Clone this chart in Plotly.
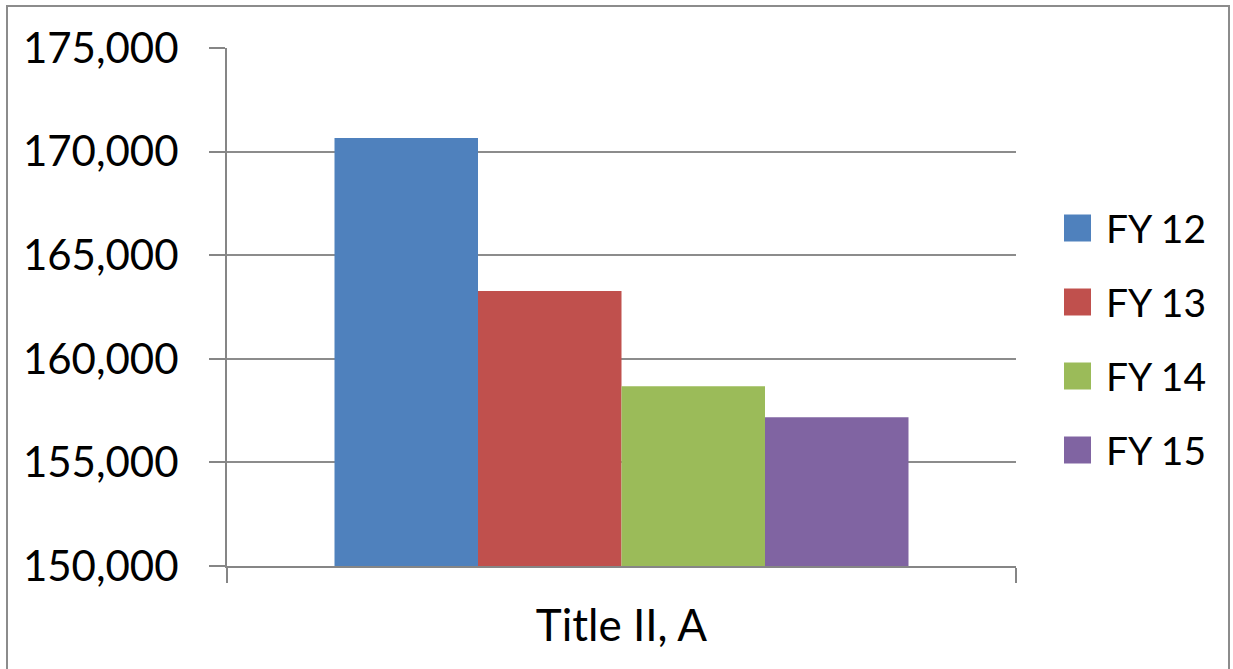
import plotly.graph_objects as go

# Data
category = ["Title II, A"]
series_names = ["FY 12", "FY 13", "FY 14", "FY 15"]
series_values = [170660, 163270, 158680, 157180]
colors = ["#4F81BD", "#C0504D", "#9BBB59", "#8064A2"]
y_ticks = [150000, 155000, 160000, 165000, 170000, 175000]

W, H = 1233, 669
ML, MR, MT, MB = 227, 217, 48, 103
PW, PH = W - ML - MR, H - MT - MB


def px_to_paper(x, y):
    return (x - ML) / PW, (H - MB - y) / PH


fig = go.Figure()
for name, val, col in zip(series_names, series_values, colors):
    fig.add_trace(go.Bar(x=category, y=[val], name=name, marker_color=col,
                         marker_line_width=0, showlegend=False))

shapes = []
annotations = []

# Custom legend: large colour squares with labels
for i, (name, col) in enumerate(zip(series_names, colors)):
    cy = 228 + i * 74
    x0, y0 = px_to_paper(1064, cy - 13.5)
    x1, y1 = px_to_paper(1091, cy + 13.5)
    shapes.append(dict(type="rect", xref="paper", yref="paper",
                       x0=x0, x1=x1, y0=y1, y1=y0,
                       fillcolor=col, line_width=0))
    tx, ty = px_to_paper(1104, cy)
    annotations.append(dict(text=name, xref="paper", yref="paper",
                            x=tx, y=ty, xanchor="left", yanchor="middle",
                            showarrow=False,
                            font=dict(family="Lato", size=39, color="#000")))

# Outer chart frame
bx0, by0 = px_to_paper(7, 6)
bx1, by1 = px_to_paper(1229, 720)
shapes.append(dict(type="rect", xref="paper", yref="paper",
                   x0=bx0, x1=bx1, y0=by1, y1=by0,
                   line=dict(color="#8C8C8C", width=2), fillcolor="rgba(0,0,0,0)"))

fig.update_layout(
    width=W, height=H,
    margin=dict(l=ML, r=MR, t=MT, b=MB),
    paper_bgcolor="white", plot_bgcolor="white",
    barmode="group", bargap=0.2725, bargroupgap=0,
    shapes=shapes, annotations=annotations,
    font=dict(family="Lato", color="#000"),
)

fig.update_xaxes(
    type="category", range=[-0.5, 0.5],
    showline=True, linecolor="#868686", linewidth=2,
    ticks="outside", tickson="boundaries", ticklen=15,
    tickcolor="#868686", tickwidth=2,
    tickfont=dict(family="Lato", size=44, color="#000"),
    ticklabelstandoff=20,
    showgrid=False,
)

fig.update_yaxes(
    range=[150000, 175000], tickvals=y_ticks,
    ticktext=[f"{v:,}" for v in y_ticks],
    showline=True, linecolor="#868686", linewidth=2,
    ticks="outside", ticklen=16, tickcolor="#868686", tickwidth=2,
    showgrid=True, gridcolor="#8C8C8C", gridwidth=2,
    tickfont=dict(family="Lato", size=42, color="#000"),
    ticklabelstandoff=22,
    zeroline=False,
)

fig.write_html("out.html")
